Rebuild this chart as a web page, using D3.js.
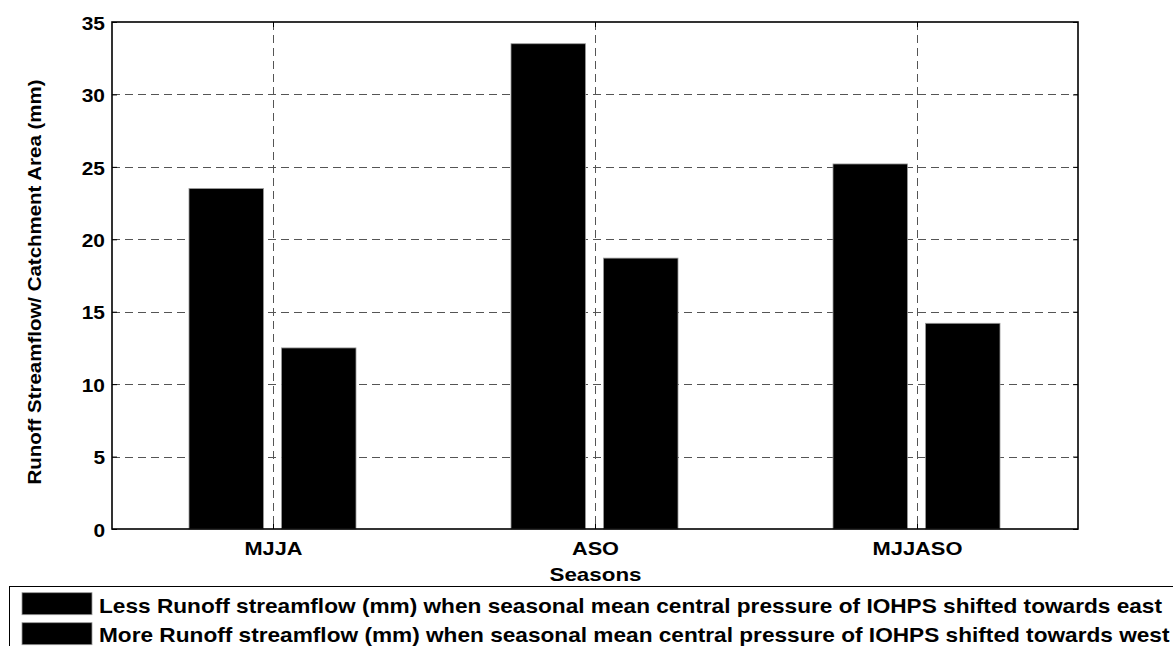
<!DOCTYPE html>
<html>
<head>
<meta charset="utf-8">
<script src="https://cdn.jsdelivr.net/npm/d3@7"></script>
<style>
  html, body { margin: 0; padding: 0; background: #fff; }
  svg { display: block; }
  text { font-family: "Liberation Sans", Arial, Helvetica, sans-serif; font-weight: bold; fill: #000; }
</style>
</head>
<body>
<svg id="chart" width="1173" height="646"></svg>
<script>
// ---- data ----
const seasons = ["MJJA", "ASO", "MJJASO"];
const lessRunoff = [23.5, 33.5, 25.2];   // IOHPS shifted towards east
const moreRunoff = [12.5, 18.7, 14.2];   // IOHPS shifted towards west
const yTicks = [0, 5, 10, 15, 20, 25, 30, 35];
const seriesNames = ["less", "more"];
const legendLabels = [
  "Less Runoff streamflow (mm) when seasonal mean central pressure of IOHPS shifted towards east",
  "More Runoff streamflow (mm) when seasonal mean central pressure of IOHPS shifted towards west"
];
const xTitle = "Seasons";
const yTitle = "Runoff Streamflow/ Catchment Area (mm)";

// ---- layout ----
const svg = d3.select("#chart");
const L = 112, R = 1078, T = 22, B = 529;

const x = d3.scaleLinear().domain([0.5, 3.5]).range([L, R]);
const y = d3.scaleLinear().domain([0, 35]).range([B, T]);
const inner = d3.scaleBand().domain(seriesNames).range([-84, 83]).paddingInner(0.195).paddingOuter(0);

// grid
const grid = svg.append("g").attr("stroke", "#555").attr("stroke-width", 1).attr("stroke-dasharray", "8,5");
grid.selectAll("line.h").data(yTicks.filter(d => d > 0 && d < 35)).enter().append("line")
  .attr("x1", L).attr("x2", R).attr("y1", d => Math.round(y(d)) + 0.5).attr("y2", d => Math.round(y(d)) + 0.5);
grid.selectAll("line.v").data(seasons).enter().append("line")
  .attr("x1", (d, i) => Math.round(x(i + 1)) + 0.5).attr("x2", (d, i) => Math.round(x(i + 1)) + 0.5)
  .attr("y1", T).attr("y2", B);

// bars
const rows = seasons.map((s, i) => ({ s, i, less: lessRunoff[i], more: moreRunoff[i] }));
const gBars = svg.append("g");
rows.forEach(r => {
  seriesNames.forEach(k => {
    gBars.append("rect")
      .attr("x", x(r.i + 1) + inner(k))
      .attr("width", inner.bandwidth())
      .attr("y", y(r[k]))
      .attr("height", y(0) - y(r[k]))
      .attr("fill", "#000")
      .attr("stroke", "#999")
      .attr("stroke-width", 0.8);
  });
});

// axes box
svg.append("rect").attr("x", L).attr("y", T).attr("width", R - L).attr("height", B - T)
  .attr("fill", "none").attr("stroke", "#000").attr("stroke-width", 1.6);

// y axis (left), ticks inward
const yAxis = d3.axisLeft(y).tickValues(yTicks).tickSize(-5).tickPadding(7).tickFormat(d3.format("d"));
const gy = svg.append("g").attr("transform", `translate(${L},0)`).call(yAxis);
gy.select(".domain").remove();
gy.selectAll(".tick line").attr("stroke", "#000");
gy.selectAll(".tick text").attr("font-size", 19).attr("font-family", null).attr("dy", "0.38em")
  .each(function () { const w = this.getComputedTextLength(); d3.select(this).attr("textLength", w * 1.1).attr("lengthAdjust", "spacingAndGlyphs"); });
// right-side ticks
const gyr = svg.append("g").attr("transform", `translate(${R},0)`).call(d3.axisRight(y).tickValues(yTicks).tickSize(-5).tickFormat(""));
gyr.select(".domain").remove();
gyr.selectAll(".tick line").attr("stroke", "#000");

// x axis
const xAxis = d3.axisBottom(x).tickValues([1, 2, 3]).tickSize(-5).tickPadding(0).tickFormat((d) => seasons[d - 1]);
const gx = svg.append("g").attr("transform", `translate(0,${B})`).call(xAxis);
gx.select(".domain").remove();
gx.selectAll(".tick line").attr("stroke", "#000");
const xLabW = { "MJJA": 58, "ASO": 47, "MJJASO": 90 };
gx.selectAll(".tick text").attr("font-size", 19).attr("font-family", null).attr("y", 26).attr("dy", null)
  .attr("textLength", d => xLabW[seasons[d - 1]]).attr("lengthAdjust", "spacingAndGlyphs");
const gxt = svg.append("g").attr("transform", `translate(0,${T})`).call(d3.axisTop(x).tickValues([1, 2, 3]).tickSize(-5).tickFormat(""));
gxt.select(".domain").remove();
gxt.selectAll(".tick line").attr("stroke", "#000");

// axis titles
svg.append("text").attr("x", (L + R) / 2 + 0.5).attr("y", 580.5).attr("text-anchor", "middle")
  .attr("font-size", 19).attr("textLength", 92).attr("lengthAdjust", "spacingAndGlyphs").text(xTitle);
svg.append("text").attr("transform", "translate(41,282) rotate(-90)").attr("text-anchor", "middle")
  .attr("font-size", 19).attr("textLength", 405).attr("lengthAdjust", "spacingAndGlyphs").text(yTitle);

// legend
const leg = svg.append("g");
leg.append("rect").attr("x", 9.5).attr("y", 586.5).attr("width", 1200).attr("height", 100)
  .attr("fill", "#fff").attr("stroke", "#000").attr("stroke-width", 1);
const legY = [592.7, 622.7];
const legBase = [613.3, 641.5];
let k = 1;
legendLabels.forEach((lab, i) => {
  leg.append("rect").attr("x", 22).attr("y", legY[i]).attr("width", 70).attr("height", 22)
    .attr("fill", "#000").attr("stroke", "#999").attr("stroke-width", 0.8);
  const t = leg.append("text").attr("x", 99).attr("y", legBase[i]).attr("font-size", 21).text(lab);
  const w = t.node().getComputedTextLength();
  if (i === 0) k = 1063 / w;
  t.attr("textLength", w * k).attr("lengthAdjust", "spacingAndGlyphs");
});
</script>
</body>
</html>
